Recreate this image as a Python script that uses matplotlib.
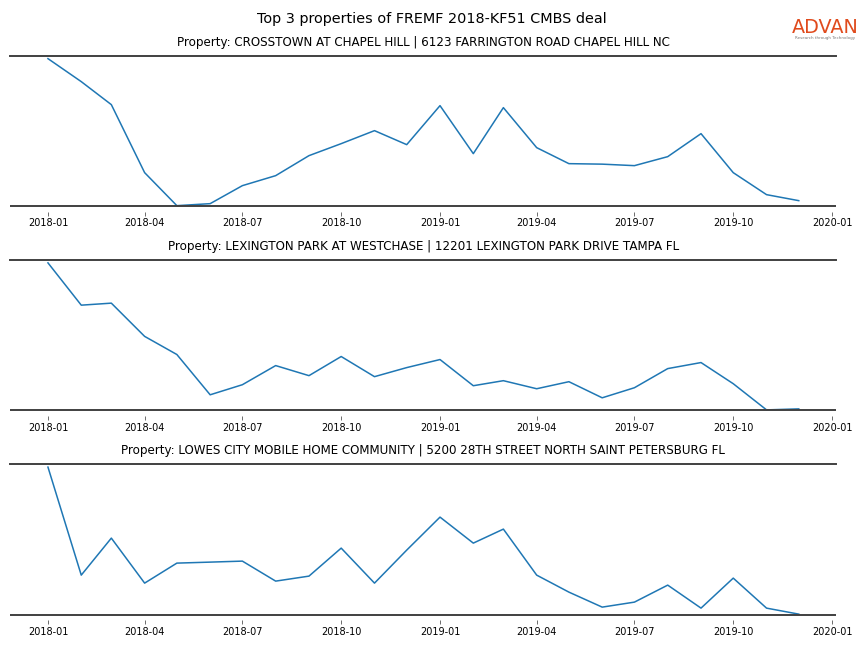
import numpy as np
import pandas as pd
import matplotlib
matplotlib.use("Agg")
import matplotlib.pyplot as plt
import matplotlib.dates as mdates

# monthly visits (relative scale)
months = pd.date_range("2018-01-01", "2019-12-01", freq="MS")

properties = [
    "CROSSTOWN AT CHAPEL HILL | 6123 FARRINGTON ROAD CHAPEL HILL NC",
    "LEXINGTON PARK AT WESTCHASE | 12201 LEXINGTON PARK DRIVE TAMPA FL",
    "LOWES CITY MOBILE HOME COMMUNITY | 5200 28TH STREET NORTH SAINT PETERSBURG FL",
]

crosstown = [148, 125, 102, 34, 1, 3, 21, 31, 51, 63, 76, 62,
             101, 53, 99, 59, 43, 42.5, 41, 50, 73, 34, 12, 6]
lexington = [147, 105, 107, 74, 56, 16, 26, 45, 35, 54, 34, 43,
             51, 25, 30, 22, 29, 13, 23, 42, 48, 27, 1, 2]
lowes = [149, 41, 78, 33, 53, 54, 55, 35, 40, 68, 33, 66,
         99, 73, 87, 41, 24, 9, 14, 31, 8, 38, 8, 2]

series = [crosstown, lexington, lowes]

fig, axes = plt.subplots(3, 1, figsize=(8.64, 6.48), dpi=100)
fig.subplots_adjust(left=0.012, right=0.968, top=0.9136, bottom=0.0432, hspace=0.313)

for ax, name, vals in zip(axes, properties, series):
    vals = np.array(vals, dtype=float)
    lo, hi = vals.min(), vals.max()
    ax.plot(months, vals, color="#1f77b4", lw=1.1)
    rng = hi - lo
    ax.set_ylim(lo - rng * 0.04, hi + rng * 0.018)
    ax.axhline(lo - rng * 0.004, color="#404040", lw=1.4)
    for s in ["left", "right", "bottom"]:
        ax.spines[s].set_visible(False)
    ax.spines["top"].set_color("#404040")
    ax.spines["top"].set_linewidth(1.4)
    ax.set_yticks([])
    ax.xaxis.set_major_locator(mdates.MonthLocator(bymonth=[1, 4, 7, 10]))
    ax.xaxis.set_major_formatter(mdates.DateFormatter("%Y-%m"))
    ax.tick_params(axis="x", labelsize=7, length=3, width=0.6, color="#555555", pad=2)
    ax.set_title("Property: " + name, fontsize=8.6, pad=7.5)
    ax.set_xlim(months[0] - pd.Timedelta(days=35), months[-1] + pd.Timedelta(days=35))

fig.suptitle("Top 3 properties of FREMF 2018-KF51 CMBS deal", fontsize=10.4, y=0.982)

fig.text(0.9555, 0.957, "ADVAN", color="#e04a1c", fontsize=13.8, ha="center", va="center")
fig.text(0.9555, 0.941, "Research through Technology", color="#777777", fontsize=2.9,
         ha="center", va="center")

fig.savefig("out.png", dpi=100)
